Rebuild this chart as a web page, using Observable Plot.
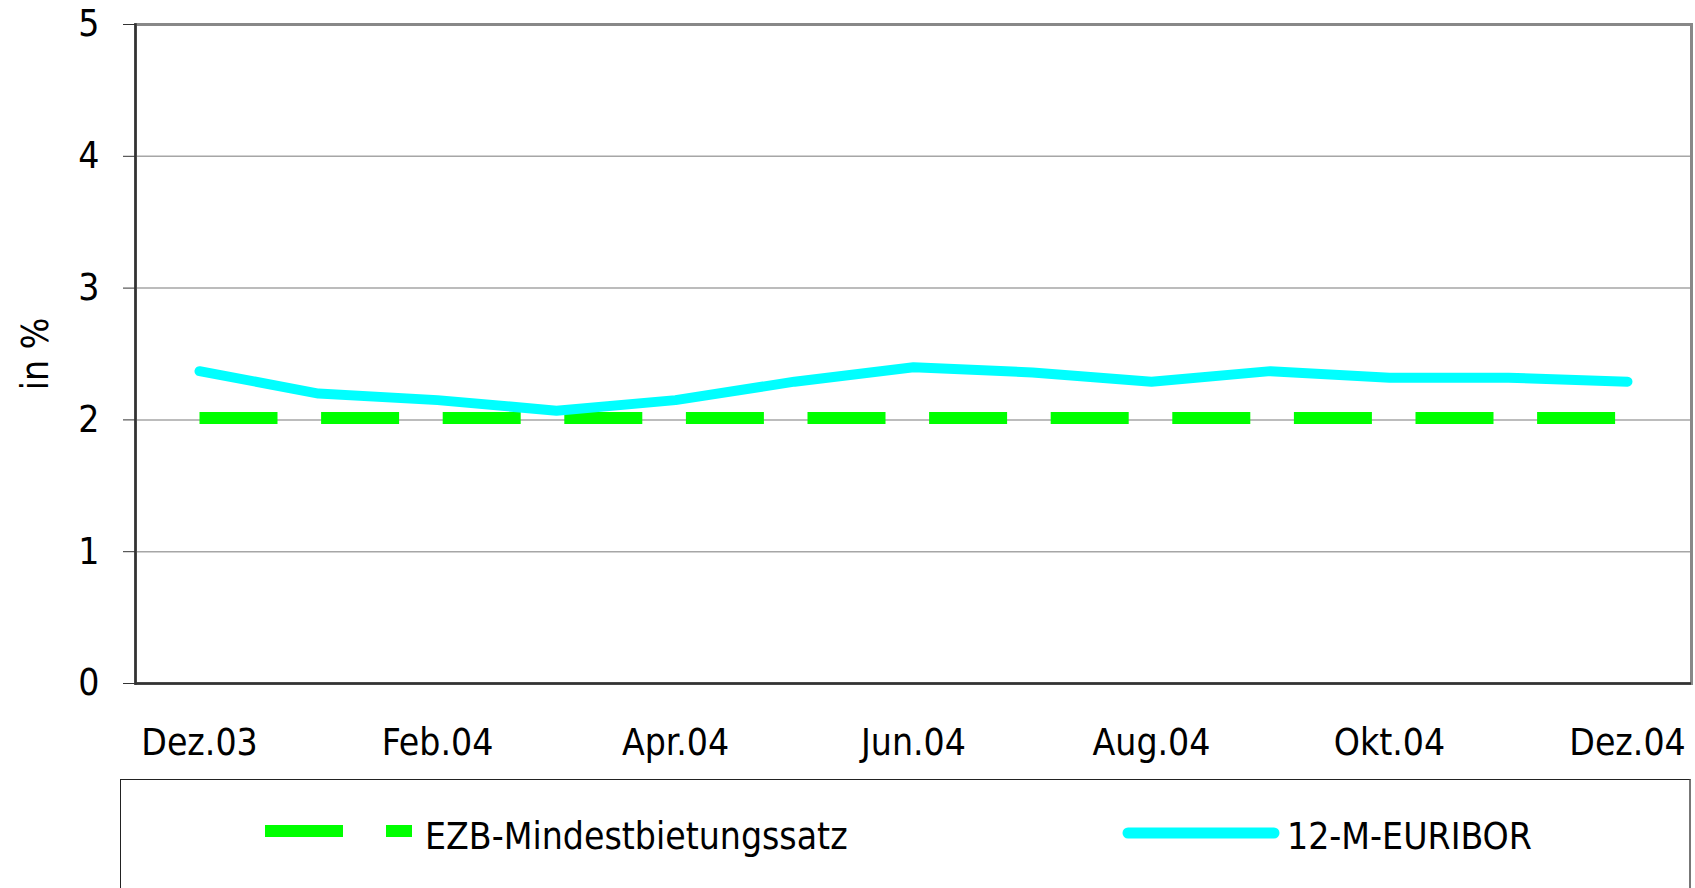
<!DOCTYPE html>
<html><head><meta charset="utf-8">
<script src="https://cdn.jsdelivr.net/npm/d3@7"></script>
<script src="https://cdn.jsdelivr.net/npm/@observablehq/plot@0.6"></script>
<style>
body{margin:0;background:#fff;}
#wrap{position:relative;width:1695px;height:888px;overflow:hidden;font-family:"DejaVu Sans Condensed",sans-serif;}
#chart{position:absolute;left:0;top:0;}
#legend{position:absolute;left:120px;top:779px;width:1571px;height:140px;border:1px solid #222;border-right:2px solid #777;box-sizing:border-box;}
#legend svg{position:absolute;left:0;top:0;}
</style></head><body><div id="wrap"><div id="chart"></div><div id="legend"></div></div>
<script>
const months = ["Dez.03","Jan.04","Feb.04","Mrz.04","Apr.04","Mai.04","Jun.04","Jul.04","Aug.04","Sep.04","Okt.04","Nov.04","Dez.04"];
const ezb = [2,2,2,2,2,2,2,2,2,2,2,2,2];
const euribor = [2.37,2.20,2.15,2.07,2.15,2.29,2.40,2.36,2.29,2.37,2.32,2.32,2.29];
const tickLabels = ["Dez.03","Feb.04","Apr.04","Jun.04","Aug.04","Okt.04","Dez.04"];
const yTicks = [0,1,2,3,4,5];
const seriesNames = ["EZB-Mindestbietungssatz","12-M-EURIBOR"];
const seriesColors = ["#00ff00","#00ffff"];

const FONT = '"DejaVu Sans Condensed",sans-serif';
const data = months.map((m,i)=>({m, ezb:ezb[i], eur:euribor[i]}));

const chart = Plot.plot({
  width:1695, height:779,
  marginLeft:135, marginRight:4, marginTop:24, marginBottom:96,
  style:{fontFamily:FONT, fontSize:"37px", color:"#000", background:"transparent", overflow:"visible"},
  x:{type:"point", domain:months, padding:0.5},
  y:{domain:[0,5]},
  marks:[
    Plot.gridY(yTicks.slice(1,5), {stroke:"#a6a6a6", strokeOpacity:1, strokeWidth:1.5}),
    Plot.frame({stroke:"#888", strokeWidth:3}),
    Plot.frame({anchor:"left", stroke:"#333", strokeWidth:2.5}),
    Plot.ruleY([0], {stroke:"#333", strokeWidth:2.5}),
    Plot.axisY({ticks:yTicks, tickSize:12, tickPadding:24, tickFormat:d=>String(d), label:"in %", labelAnchor:"center", labelArrow:"none", labelOffset:114, stroke:"#333", fill:"#000"}),
    Plot.axisX({ticks:tickLabels, tickSize:0, tickPadding:45, label:null, fill:"#000"}),
    Plot.lineY(data, {x:"m", y:"ezb", stroke:seriesColors[0], strokeWidth:12, strokeDasharray:"78 43.6", strokeLinecap:"butt", strokeLinejoin:"miter", dy:-2}),
    Plot.lineY(data, {x:"m", y:"eur", stroke:seriesColors[1], strokeWidth:10, strokeLinecap:"round", strokeLinejoin:"round"})
  ]
});
document.getElementById("chart").appendChild(chart);

// legend
const lg = d3.select("#legend").append("svg").attr("width",1569).attr("height",140)
  .style("font-family", FONT).style("font-size","37px");
lg.append("line").attr("x1",144).attr("x2",222).attr("y1",51).attr("y2",51)
  .attr("stroke",seriesColors[0]).attr("stroke-width",12);
lg.append("line").attr("x1",265).attr("x2",291).attr("y1",51).attr("y2",51)
  .attr("stroke",seriesColors[0]).attr("stroke-width",12);
lg.append("text").attr("x",304).attr("y",56).attr("dy","0.35em").text(seriesNames[0]);
lg.append("line").attr("x1",1007).attr("x2",1153).attr("y1",53).attr("y2",53)
  .attr("stroke",seriesColors[1]).attr("stroke-width",11).attr("stroke-linecap","round");
lg.append("text").attr("x",1166).attr("y",56).attr("dy","0.35em").text(seriesNames[1]);
</script></body></html>
